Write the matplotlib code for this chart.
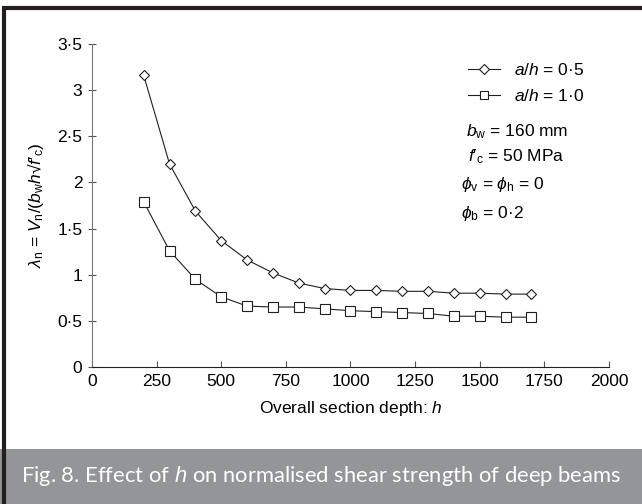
import matplotlib.pyplot as plt
from matplotlib.lines import Line2D
from matplotlib.patches import Rectangle

plt.rcParams['font.family'] = ['Liberation Sans', 'DejaVu Sans']
plt.rcParams['mathtext.fontset'] = 'custom'
plt.rcParams['mathtext.rm'] = 'Liberation Sans'
plt.rcParams['mathtext.it'] = 'Liberation Sans:italic'

# datos
profundidad = [200, 300, 400, 500, 600, 700, 800, 900, 1000, 1100, 1200, 1300, 1400, 1500, 1600, 1700]
lambda_a05 = [3.16, 2.20, 1.69, 1.37, 1.16, 1.02, 0.91, 0.85, 0.83, 0.83, 0.82, 0.82, 0.80, 0.80, 0.79, 0.79]
lambda_a10 = [1.79, 1.26, 0.95, 0.76, 0.66, 0.65, 0.65, 0.63, 0.61, 0.60, 0.59, 0.58, 0.55, 0.55, 0.54, 0.54]

xticks = [0, 250, 500, 750, 1000, 1250, 1500, 1750, 2000]
yticks = [0, 0.5, 1, 1.5, 2, 2.5, 3, 3.5]
ytick_labels = ['0', '0·5', '1', '1·5', '2', '2·5', '3', '3·5']

fig = plt.figure(figsize=(6.42, 5.04), dpi=100)

# marco y banda del pie de figura
fig.patches.append(Rectangle((0.0, 0.0), 1.0, 0.109, transform=fig.transFigure,
                             facecolor='#939598', edgecolor='none', zorder=0))
fig.patches.append(Rectangle((0.006, -0.01), 1.2, 0.995, transform=fig.transFigure,
                             facecolor='none', edgecolor='#231f20', linewidth=3, zorder=1))
fig.text(0.5, 0.055, r'Fig. 8. Effect of $h$ on normalised shear strength of deep beams',
         color='white', fontsize=15.8, family='Lato', ha='center', va='center')

ax = fig.add_axes([0.1433, 0.2718, 0.8053, 0.6409])
ax.plot(profundidad, lambda_a05, color='#231f20', linewidth=0.8, marker='D',
        markersize=5.5, markerfacecolor='white', markeredgecolor='#231f20', markeredgewidth=0.8)
ax.plot(profundidad, lambda_a10, color='#231f20', linewidth=0.8, marker='s',
        markersize=7, markerfacecolor='white', markeredgecolor='#231f20', markeredgewidth=0.8)

ax.set_xlim(0, 2000)
ax.set_ylim(0, 3.5)
ax.set_xticks(xticks)
ax.set_yticks(yticks)
ax.set_yticklabels(ytick_labels)
ax.spines['top'].set_visible(False)
ax.spines['right'].set_visible(False)
ax.spines['left'].set_color('#777777')
ax.spines['bottom'].set_color('#231f20')
ax.tick_params(axis='x', direction='in', length=4, labelsize=12.5, pad=5, color='#555555')
ax.tick_params(axis='y', direction='inout', length=6, labelsize=12.5, pad=4, color='#555555')
ax.set_xlabel(r'Overall section depth: $h$', fontsize=12.5, labelpad=7)
ax.set_ylabel(r"$\lambda_{\rm n}$ = $V_{\rm n}/(b_{\rm w}h$√$f$′$_{\rm c})$", fontsize=12.5, labelpad=8)

handles = [Line2D([], [], color='#231f20', linewidth=0.8, marker='D', markersize=5,
                  markerfacecolor='white', markeredgewidth=0.8),
           Line2D([], [], color='#231f20', linewidth=0.8, marker='s', markersize=6,
                  markerfacecolor='white', markeredgewidth=0.8)]
fig.legend(handles, [r'$a/h$ = 0·5', r'$a/h$ = 1·0'], loc='upper left',
           bbox_to_anchor=(0.716, 0.895), frameon=False, fontsize=12.5,
           handlelength=1.85, handletextpad=0.8, labelspacing=0.6, borderpad=0)

fig.text(0.726, 0.738, r'$b_{\rm w}$ = 160 mm', fontsize=12.5, va='center')
fig.text(0.729, 0.689, r"$f$′$_{\rm c}$ = 50 MPa", fontsize=12.5, va='center')
fig.text(0.718, 0.633, r'$\phi_{\rm v}$ = $\phi_{\rm h}$ = 0', fontsize=12.5, va='center')
fig.text(0.718, 0.577, r'$\phi_{\rm b}$ = 0·2', fontsize=12.5, va='center')

fig.savefig('out.png', dpi=100)
